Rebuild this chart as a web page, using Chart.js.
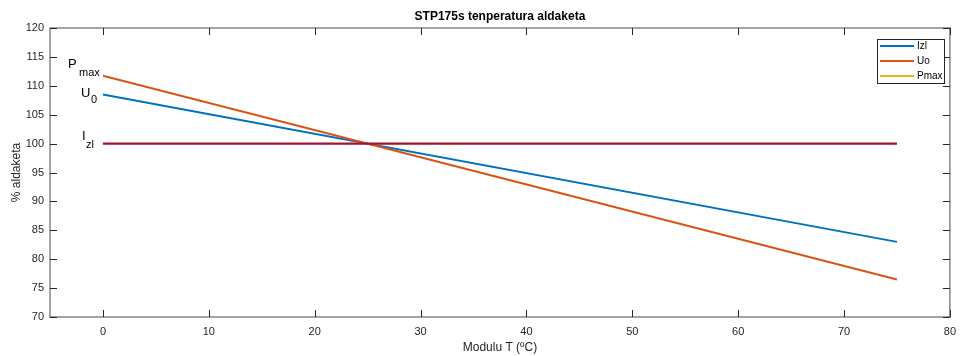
<!DOCTYPE html>
<html>
<head>
    <title>STP175s tenperatura aldaketa</title>
    <script src="https://cdn.jsdelivr.net/npm/chart.js"></script>
    <style>
        body { margin: 0; background: #fff; }
        #wrap { width: 964px; height: 356px; }
    </style>
</head>
<body>
    <div id="wrap"><canvas id="chart" width="964" height="356"></canvas></div>

    <script>
        // data
        const tempC = [0, 75];
        const izl = [108.5, 83.0];      // blue in legend
        const uo = [111.75, 76.5];      // orange
        const pmax = [100, 100];        // yellow, hidden under the dark red line
        const refLine = [100, 100];     // dark red, not in legend
        const xTicks = [0, 10, 20, 30, 40, 50, 60, 70, 80];
        const yTicks = [70, 75, 80, 85, 90, 95, 100, 105, 110, 115, 120];

        const FONT = '"Liberation Sans", Arial, Helvetica, sans-serif';
        const legendItems = [
            { label: 'Izl', color: '#0072BD' },
            { label: 'Uo', color: '#D95319' },
            { label: 'Pmax', color: '#EDB120' }
        ];

        function pts(ys) {
            return tempC.map((t, i) => ({ x: t, y: ys[i] }));
        }

        const matlabLook = {
            id: 'matlabLook',
            afterDraw(chart) {
                const ctx = chart.ctx;
                const a = chart.chartArea;
                const xs = chart.scales.x, ys = chart.scales.y;
                ctx.save();

                // box
                ctx.strokeStyle = '#858585';
                ctx.lineWidth = 1.5;
                ctx.strokeRect(a.left, a.top, a.right - a.left, a.bottom - a.top);

                // inner ticks on all four sides
                ctx.strokeStyle = '#262626';
                ctx.lineWidth = 1;
                const tl = 7;
                ctx.beginPath();
                xTicks.forEach(v => {
                    const px = Math.round(xs.getPixelForValue(v)) + 0.5;
                    ctx.moveTo(px, a.bottom); ctx.lineTo(px, a.bottom - tl);
                    ctx.moveTo(px, a.top); ctx.lineTo(px, a.top + tl);
                });
                yTicks.forEach(v => {
                    const py = Math.round(ys.getPixelForValue(v)) + 0.5;
                    ctx.moveTo(a.left, py); ctx.lineTo(a.left + tl, py);
                    ctx.moveTo(a.right, py); ctx.lineTo(a.right - tl, py);
                });
                ctx.stroke();

                ctx.fillStyle = '#000';
                // title
                ctx.font = 'bold 12px ' + FONT;
                ctx.textAlign = 'center';
                ctx.textBaseline = 'middle';
                ctx.fillText('STP175s tenperatura aldaketa', (a.left + a.right) / 2, 17);

                // axis titles
                ctx.fillStyle = '#262626';
                ctx.font = '12px ' + FONT;
                ctx.fillText('Modulu T (ºC)', (a.left + a.right) / 2, 348);
                ctx.save();
                ctx.translate(17, (a.top + a.bottom) / 2);
                ctx.rotate(-Math.PI / 2);
                ctx.fillText('% aldaketa', 0, 0);
                ctx.restore();

                // curve labels with subscripts
                ctx.textAlign = 'left';
                ctx.textBaseline = 'alphabetic';
                ctx.fillStyle = '#000';
                function label(main, sub, x, y, subDx, subDy) {
                    ctx.font = '13px ' + FONT;
                    ctx.fillText(main, x, y);
                    ctx.font = '11px ' + FONT;
                    ctx.fillText(sub, x + subDx, y + subDy);
                }
                label('P', 'max', 68, 68, 11, 8);
                label('U', '0', 81, 97, 10, 6);
                label('I', 'zl', 82, 140, 4, 8);

                // legend
                const lx = 877, ly = 39, lw = 67, lh = 44;
                ctx.fillStyle = '#fff';
                ctx.fillRect(lx, ly, lw, lh);
                ctx.strokeStyle = '#262626';
                ctx.lineWidth = 1;
                ctx.strokeRect(lx + 0.5, ly + 0.5, lw, lh);
                ctx.font = '10px ' + FONT;
                ctx.textBaseline = 'middle';
                legendItems.forEach((it, i) => {
                    const yy = ly + 7 + i * 15;
                    ctx.strokeStyle = it.color;
                    ctx.lineWidth = 2;
                    ctx.beginPath();
                    ctx.moveTo(880, yy); ctx.lineTo(914, yy);
                    ctx.stroke();
                    ctx.fillStyle = '#000';
                    ctx.fillText(it.label, 917, yy);
                });

                ctx.restore();
            }
        };

        const ctx = document.getElementById('chart').getContext('2d');
        new Chart(ctx, {
            type: 'line',
            data: {
                datasets: [
                    { label: 'Izl', data: pts(izl), borderColor: '#0072BD', order: 3 },
                    { label: 'Uo', data: pts(uo), borderColor: '#D95319', order: 2 },
                    { label: 'Pmax', data: pts(pmax), borderColor: '#EDB120', borderWidth: 1, order: 1 },
                    { label: 'ref', data: pts(refLine), borderColor: '#A2142F', borderWidth: 2.2, order: 0 }
                ]
            },
            options: {
                responsive: false,
                animation: false,
                elements: {
                    line: { borderWidth: 2, tension: 0, fill: false },
                    point: { radius: 0, hoverRadius: 0 }
                },
                layout: { padding: { top: 28, right: 6, left: 0, bottom: 0 } },
                plugins: {
                    legend: { display: false },
                    title: { display: false },
                    tooltip: { enabled: false }
                },
                scales: {
                    x: {
                        type: 'linear',
                        min: -5,
                        max: 80,
                        grid: { display: false, drawTicks: false },
                        border: { display: false },
                        ticks: {
                            color: '#262626',
                            font: { family: FONT, size: 11 },
                            padding: 8,
                            maxRotation: 0
                        },
                        afterBuildTicks: s => { s.ticks = xTicks.map(v => ({ value: v })); },
                        afterFit: s => { s.height = 39; }
                    },
                    y: {
                        type: 'linear',
                        min: 70,
                        max: 120,
                        grid: { display: false, drawTicks: false },
                        border: { display: false },
                        ticks: {
                            color: '#262626',
                            font: { family: FONT, size: 11 },
                            padding: 6
                        },
                        afterBuildTicks: s => { s.ticks = yTicks.map(v => ({ value: v })); },
                        afterFit: s => { s.width = 50; }
                    }
                }
            },
            plugins: [matlabLook]
        });
    </script>
</body>
</html>
